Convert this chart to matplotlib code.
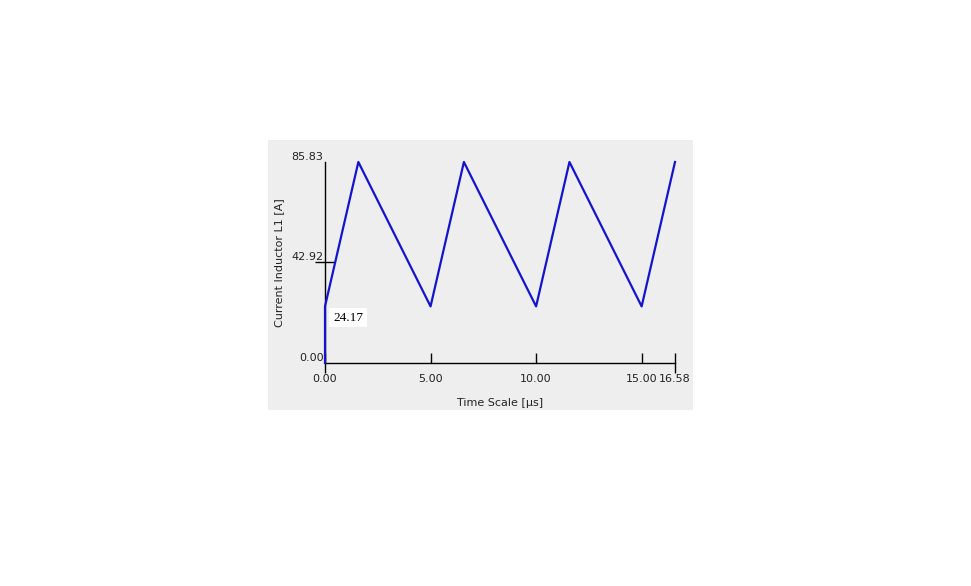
import matplotlib
matplotlib.use('Agg')
import matplotlib.pyplot as plt
from matplotlib.patches import Rectangle

# inductor current waveform
time_us = [0.0, 0.0, 1.58, 5.0, 6.58, 10.0, 11.58, 15.0, 16.58]
current_a = [0.0, 24.17, 85.83, 24.17, 85.83, 24.17, 85.83, 24.17, 85.83]

x_ticks = [0.0, 5.0, 10.0, 15.0, 16.58]
y_ticks = [0.0, 42.92, 85.83]
start_label = 24.17

W, H = 971, 586
plt.rcParams['font.family'] = ['DejaVu Sans']
plt.rcParams['font.size'] = 8

fig = plt.figure(figsize=(W / 100, H / 100), dpi=100)
fig.patch.set_facecolor('white')

# grey panel behind the plot
fig.add_artist(Rectangle((268 / W, 1 - 410 / H), (693 - 268) / W, (410 - 140) / H,
                         transform=fig.transFigure, facecolor='#eeeeee',
                         edgecolor='none', zorder=0))

ax = fig.add_axes([325 / W, 1 - 363 / H, 350 / W, 201 / H])
ax.patch.set_alpha(0)
ax.plot(time_us, current_a, color='#1414cc', lw=1.6, clip_on=False, zorder=3)

ax.set_xlim(time_us[0], x_ticks[-1])
ax.set_ylim(0, max(current_a))
for s in ['top', 'right']:
    ax.spines[s].set_visible(False)
for s in ['left', 'bottom']:
    ax.spines[s].set_linewidth(1.0)
    ax.spines[s].set_color('black')

# keep minor ticks that sit on top of major ones
ax.xaxis.remove_overlapping_locs = False
ax.yaxis.remove_overlapping_locs = False

ax.set_xticks(x_ticks)
ax.set_xticklabels(['%.2f' % v for v in x_ticks], color='#222222')
ax.set_xticks([x_ticks[0], x_ticks[-1]], minor=True)
ax.tick_params(axis='x', which='major', direction='in', length=7.2, width=1, pad=8)
ax.tick_params(axis='x', which='minor', direction='out', length=7.2, width=1)

ax.set_yticks(y_ticks)
ax.set_yticklabels(['%.2f' % v for v in y_ticks], color='#222222')
ax.set_yticks([y_ticks[1]], minor=True)
ax.tick_params(axis='y', which='major', length=0, pad=1)
ax.tick_params(axis='y', which='minor', direction='inout', length=14.4, width=1)
for lab in ax.get_yticklabels():
    lab.set_va('bottom')

ax.set_ylabel('Current Inductor L1 [A]', color='#222222')
ax.yaxis.set_label_coords(-0.117, 0.5)
ax.set_xlabel('Time Scale [µs]', color='#222222')
ax.xaxis.set_label_coords(0.5, -0.2)
ax.xaxis.label.set_va('center')

ax.annotate('%.2f' % start_label, xy=(time_us[1], start_label), xytext=(6, -8),
            textcoords='offset points', ha='left', va='center',
            family='Liberation Serif', fontsize=9.5,
            bbox=dict(boxstyle='square,pad=0.3', facecolor='white', edgecolor='none'))

fig.savefig('out.png', dpi=100)
